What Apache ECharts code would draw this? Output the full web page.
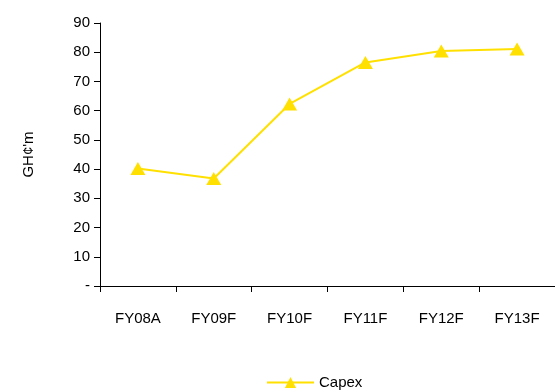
<!DOCTYPE html>
<html>
<head>
<meta charset="utf-8">
<script src="https://cdn.jsdelivr.net/npm/echarts@6/dist/echarts.min.js"></script>
<style>
  html, body { margin: 0; padding: 0; background: #fff; }
  #chart { width: 555px; height: 392px; }
</style>
</head>
<body>
<div id="chart"></div>
<script>
var years = ['FY08A', 'FY09F', 'FY10F', 'FY11F', 'FY12F', 'FY13F'];
var capex = [40.2, 36.8, 62.3, 76.5, 80.4, 81.1];

var font = '"Liberation Sans", Arial, sans-serif';
var myChart = echarts.init(document.getElementById('chart'));
var option = {
    animation: false,
    textStyle: { fontFamily: font },
    grid: {
        left: 100,
        right: -1,
        top: 23,
        bottom: 106
    },
    legend: {
        top: 370,
        left: 261,
        itemWidth: 47,
        itemHeight: 14,
        itemGap: 4,
        textStyle: { color: '#000', fontSize: 15, fontFamily: font },
        data: ['Capex']
    },
    xAxis: {
        type: 'category',
        data: years,
        boundaryGap: true,
        axisLine: { lineStyle: { color: '#000', width: 1 } },
        axisTick: { show: true, length: 6, lineStyle: { color: '#000' } },
        axisLabel: { color: '#000', fontSize: 15, margin: 25, fontFamily: font }
    },
    yAxis: {
        type: 'value',
        min: 0,
        max: 90,
        interval: 10,
        name: 'GH¢\'m',
        nameLocation: 'middle',
        nameGap: 64,
        nameRotate: 90,
        nameTextStyle: { color: '#000', fontSize: 15, fontFamily: font },
        splitLine: { show: false },
        axisLine: { show: true, lineStyle: { color: '#000', width: 1 } },
        axisTick: { show: true, length: 6, lineStyle: { color: '#000' } },
        axisLabel: {
            color: '#000',
            fontSize: 15,
            margin: 10,
            fontFamily: font,
            formatter: function (v) { return v === 0 ? '-' : v; }
        }
    },
    series: [
        {
            name: 'Capex',
            type: 'line',
            data: capex,
            symbol: 'triangle',
            symbolSize: [15, 13],
            lineStyle: { color: '#FFE000', width: 2 },
            itemStyle: { color: '#FFE000' }
        }
    ]
};
myChart.setOption(option);
</script>
</body>
</html>
